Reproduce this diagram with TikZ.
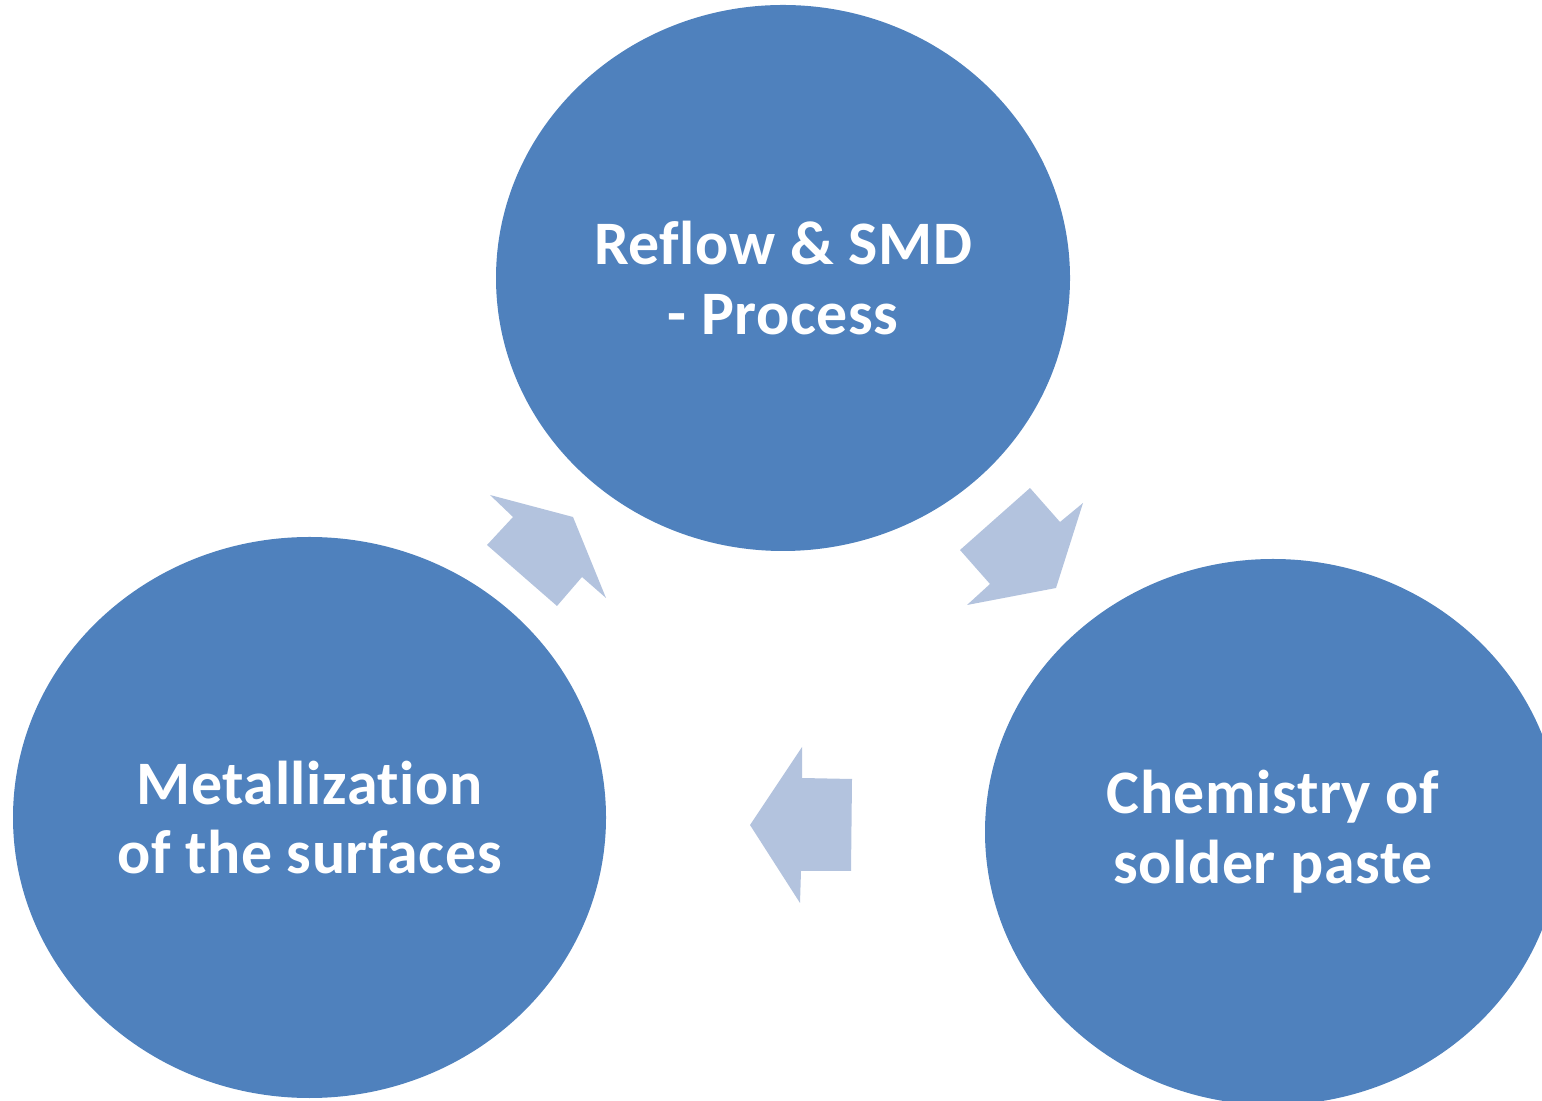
\documentclass[tikz,border=0pt]{standalone}
\usepackage{fontspec}
\setmainfont{Carlito}[Ligatures=NoCommon, LetterSpace=1]
\usepackage{xcolor}
\usetikzlibrary{shapes.geometric}
\definecolor{cycleblue}{HTML}{4F81BD}
\definecolor{arrowblue}{HTML}{B3C3DE}

\begin{document}
\begin{tikzpicture}[
  bubble/.style={ellipse, fill=cycleblue, inner sep=0pt, align=center, text=white,
    font=\fontsize{17.6}{19.9}\selectfont\bfseries},
  cyclearrow/.style={fill=arrowblue}
]
\useasboundingbox (0,0) rectangle (15.42,11);
\clip (0,0) rectangle (15.42,11);
% the three stages
\node[bubble, minimum width=5.74cm, minimum height=5.46cm] (reflow) at (7.83,8.22) {Reflow \& SMD\\- Process};
\node[bubble, minimum width=5.93cm, minimum height=5.61cm] (metal) at (3.095,2.825) {Metallization\\of the surfaces};
\node[bubble, minimum width=5.76cm, minimum height=5.46cm] (paste) at (12.73,2.68) {Chemistry of\\solder paste};
% block arrows, clockwise
\fill[cyclearrow] (4.90,6.05) -- (5.73,5.83) -- (6.06,5.02) -- (5.82,5.23) -- (5.57,4.94) -- (4.87,5.55) -- (5.13,5.83) -- cycle;
\fill[cyclearrow] (10.30,6.12) -- (10.60,5.78) -- (10.83,5.97) -- (10.56,5.12) -- (9.67,4.95) -- (9.90,5.16) -- (9.60,5.50) -- cycle;
\fill[cyclearrow] (8.02,3.53) -- (8.02,3.22) -- (8.52,3.21) -- (8.51,2.29) -- (8.01,2.29) -- (8.00,1.97) -- (7.50,2.75) -- cycle;
\end{tikzpicture}
\end{document}
